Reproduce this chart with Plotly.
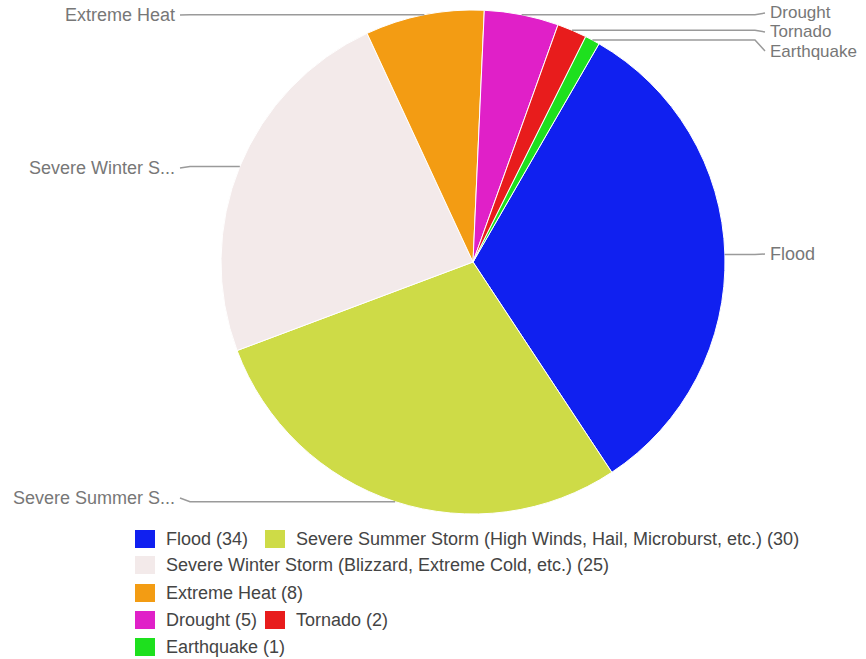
import math
import plotly.graph_objects as go

# Disaster declarations by type
categories = [
    "Flood",
    "Severe Summer Storm (High Winds, Hail, Microburst, etc.)",
    "Severe Winter Storm (Blizzard, Extreme Cold, etc.)",
    "Extreme Heat",
    "Drought",
    "Tornado",
    "Earthquake",
]
counts = [34, 30, 25, 8, 5, 2, 1]
colors = ["#1020f0", "#cedb47", "#f3eaea", "#f39c13", "#e020c8", "#e81c1c", "#1ee01e"]

W, H = 866, 659
CX, CY, R = 473, 262, 252          # pie centre and radius in pixels
START = 30                          # first slice starts 30 deg clockwise from 12 o'clock

# label placement (pixel rows), side and font size for each slice
label_y = [254, 498, 168, 15, 13, 32, 51]
label_side = [1, -1, -1, -1, 1, 1, 1]
label_size = [18, 18, 18, 18, 17, 17, 17]
LEFT_END, RIGHT_END = 180, 765

# legend rows (indices into categories) and layout
legend_rows = [[0, 1], [2], [3], [4, 5], [6]]
legend_row_y = [539, 565, 593, 620, 647]
legend_col_x = [135, 265]
SW, SH = 20, 18

FONT = "Liberation Sans, Arial, sans-serif"


def px(x):
    return x / W


def py(y):
    return 1 - y / H


def short(name):
    return name if len(name) <= 15 else name[:15] + "..."


fig = go.Figure()
fig.add_trace(go.Pie(
    labels=categories,
    values=counts,
    sort=False,
    direction="clockwise",
    rotation=START,
    marker=dict(colors=colors, line=dict(color="white", width=1)),
    textinfo="none",
    hoverinfo="label+value",
    showlegend=False,
    domain=dict(x=[px(CX - R), px(CX + R)], y=[py(CY + R), py(CY - R)]),
))

shapes = []
annotations = []

# leader lines and outside labels
total = sum(counts)
acc = 0
for i, (name, v) in enumerate(zip(categories, counts)):
    mid = math.radians(START + (acc + v / 2) / total * 360)
    acc += v
    ax = CX + R * math.sin(mid)
    ay = CY - R * math.cos(mid)
    side = label_side[i]
    end_x = RIGHT_END if side > 0 else LEFT_END
    ly = label_y[i]
    pts = [(ax, ay), (ax + side * 3, ay), (end_x - side * 10, ay), (end_x, ly)]
    path = "M " + " L ".join(f"{px(x):.5f},{py(y):.5f}" for x, y in pts)
    shapes.append(dict(type="path", xref="paper", yref="paper", path=path,
                       line=dict(color="#9a9a9a", width=1.5), layer="above"))
    annotations.append(dict(
        x=px(end_x + side * 4), y=py(ly), xref="paper", yref="paper",
        text=short(name), showarrow=False, borderpad=0,
        xanchor="left" if side > 0 else "right", yanchor="middle",
        font=dict(family=FONT, size=label_size[i], color="#777777"),
    ))

# legend: coloured squares with "name (count)"
for row, ry in zip(legend_rows, legend_row_y):
    for col, idx in enumerate(row):
        x0 = legend_col_x[col]
        shapes.append(dict(type="rect", xref="paper", yref="paper",
                           x0=px(x0), x1=px(x0 + SW), y0=py(ry + SH / 2), y1=py(ry - SH / 2),
                           fillcolor=colors[idx], line=dict(width=0)))
        annotations.append(dict(
            x=px(x0 + SW + 10), y=py(ry), xref="paper", yref="paper",
            text=f"{categories[idx]} ({counts[idx]})", showarrow=False, borderpad=0,
            xanchor="left", yanchor="middle",
            font=dict(family=FONT, size=18, color="#444444"),
        ))

fig.update_layout(
    width=W, height=H,
    margin=dict(l=0, r=0, t=0, b=0),
    paper_bgcolor="white",
    plot_bgcolor="white",
    shapes=shapes,
    annotations=annotations,
    xaxis=dict(visible=False),
    yaxis=dict(visible=False),
)

fig.write_html("out.html")
